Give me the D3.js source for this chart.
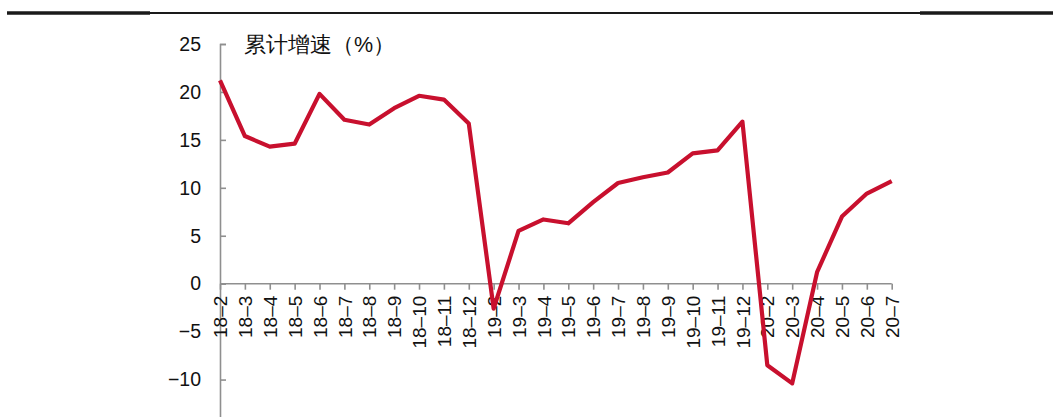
<!DOCTYPE html>
<html>
<head>
<meta charset="utf-8">
<script src="https://cdn.jsdelivr.net/npm/d3@7"></script>
<style>
  html, body { margin: 0; padding: 0; background: #fff; }
  svg { display: block; }
  text { font-family: "Liberation Sans", Arial, sans-serif; fill: #111; }
</style>
</head>
<body>
<svg id="chart" width="1053" height="417"></svg>
<script>
// Monthly periods (YY-M) and cumulative growth rate, %
const months = [
  "18-2","18-3","18-4","18-5","18-6","18-7","18-8","18-9","18-10","18-11","18-12",
  "19-2","19-3","19-4","19-5","19-6","19-7","19-8","19-9","19-10","19-11","19-12",
  "20-2","20-3","20-4","20-5","20-6","20-7"
];
const growth = [
  21.2, 15.4, 14.3, 14.6, 19.8, 17.1, 16.6, 18.3, 19.6, 19.2, 16.7,
  -2.6, 5.5, 6.7, 6.3, 8.5, 10.5, 11.1, 11.6, 13.6, 13.9, 16.9,
  -8.5, -10.4, 1.2, 7.0, 9.4, 10.7
];
const yTicks = [-15, -10, -5, 0, 5, 10, 15, 20, 25];
const yTitle = "累计增速（%）";

const svg = d3.select("#chart");

// Header rule across the top
const rule = svg.append("g");
rule.append("line").attr("x1", 7).attr("x2", 1053).attr("y1", 13).attr("y2", 13)
  .attr("stroke", "#1a1a1a").attr("stroke-width", 2);
rule.append("line").attr("x1", 7).attr("x2", 150).attr("y1", 13).attr("y2", 13)
  .attr("stroke", "#1a1a1a").attr("stroke-width", 3.5);
rule.append("line").attr("x1", 920).attr("x2", 1053).attr("y1", 13).attr("y2", 13)
  .attr("stroke", "#1a1a1a").attr("stroke-width", 3.5);

const x = d3.scalePoint().domain(months).range([220, 891.7]);
const y = d3.scaleLinear().domain([-15, 25]).range([427.5, 44]);

const axisColor = "#8f8f8f";

// Y axis: ticks pointing inward, labels on the left
const yAxis = svg.append("g").attr("transform", "translate(220,0)")
  .call(d3.axisLeft(y).tickValues(yTicks).tickSize(-6).tickPadding(19)
    .tickFormat(d => d < 0 ? "\u2212" + Math.abs(d) : String(d)));
yAxis.select(".domain").attr("stroke", axisColor).attr("stroke-width", 1.6);
yAxis.selectAll(".tick line").attr("stroke", axisColor).attr("stroke-width", 1.6);
yAxis.selectAll(".tick text")
  .attr("font-size", 19.5)
  .attr("font-family", "Liberation Sans, Arial, sans-serif")
  .attr("fill", "#111");

// X axis along zero, labels rotated vertically
const xAxis = svg.append("g").attr("transform", `translate(0,${y(0)})`)
  .call(d3.axisBottom(x).tickSize(6).tickSizeOuter(0)
    .tickFormat(d => d.replace("-", "\u2013")));
xAxis.select(".domain").attr("stroke", axisColor).attr("stroke-width", 1.6)
  .attr("d", `M${x(months[0])},0H${x(months[months.length - 1])}`);
xAxis.selectAll(".tick line").attr("stroke", axisColor).attr("stroke-width", 1.6);
xAxis.selectAll(".tick text")
  .attr("font-size", 19)
  .attr("font-family", "Liberation Sans, Arial, sans-serif")
  .attr("fill", "#111")
  .attr("text-anchor", "end")
  .attr("dy", "0.35em")
  .attr("transform", "translate(0,12) rotate(-90)")
  .attr("x", 0).attr("y", 0);

// Axis title
svg.append("text")
  .attr("x", 244).attr("y", 52)
  .attr("font-size", 21.5)
  .attr("font-family", "Noto Sans CJK SC, sans-serif")
  .attr("fill", "#111")
  .text(yTitle);

// Growth line
const line = d3.line().x((d, i) => x(months[i])).y(d => y(d));
svg.append("path")
  .datum(growth)
  .attr("d", line)
  .attr("fill", "none")
  .attr("stroke", "#c8102e")
  .attr("stroke-width", 4.2)
  .attr("stroke-linejoin", "round");
</script>
</body>
</html>
